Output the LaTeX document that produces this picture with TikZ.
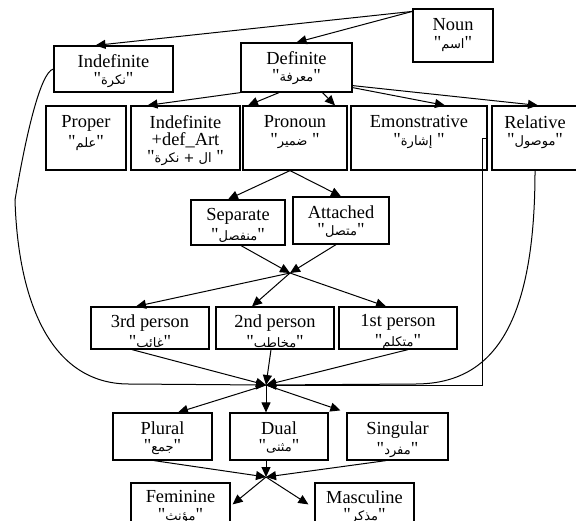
\documentclass[tikz,border=0pt]{standalone}
\usepackage{fontspec}
\setmainfont{Liberation Serif}
\newfontfamily\qfont{Liberation Serif}
\newfontfamily\arabicfont[Script=Arabic]{DejaVu Sans}
\TeXXeTstate=1
\usetikzlibrary{arrows.meta}
\usetikzlibrary{fit}
\usetikzlibrary{positioning}
\newcommand\qq{{\qfont"}}
\newcommand\artxt[1]{{\arabicfont\fontsize{6.5}{7.5}\selectfont\beginR #1\endR}}

\tikzset{
  box/.style={draw, line width=0.6pt, inner sep=0pt},
  lbl/.style={anchor=north, inner sep=0pt, align=center, font=\fontsize{9.2}{7.6}\selectfont},
  arr/.style={-{Triangle[length=5pt,width=4.5pt]}, line width=0.5pt},
}

\begin{document}
\begin{tikzpicture}[x=0.5pt, y=-0.5pt]
    \useasboundingbox (0,0) rectangle (576,520);
    \clip (0,0) rectangle (576,520);

    % top level
    \node[box, fit={(413,9) (493,62)}] (noun) {};
    \node[lbl, below=5pt of noun.north] (noun-t) {Noun\\[1pt]\qq\artxt{اسم}\qq};
    \node[box, fit={(54,46) (173,92)}] (indef) {};
    \node[lbl, below=4.5pt of indef.north] (indef-t) {Indefinite\\[1pt]\qq\artxt{نكرة}\qq};
    \node[box, fit={(241,43) (352,92)}] (defin) {};
    \node[lbl, below=4.5pt of defin.north] (defin-t) {Definite\\[1pt]\qq\artxt{معرفة}\qq};

    % kinds of definite
    \node[box, fit={(46,106) (126,170)}] (proper) {};
    \node[lbl, below=5pt of proper.north] (proper-t) {Proper\\[1pt]\qq\artxt{علم}\qq};
    \node[box, fit={(131,106) (240,170)}] (idart) {};
    \node[lbl, below=5pt of idart.north] (idart-t) {Indefinite\\[0.8pt]+def\_Art\\[1pt]\qq\artxt{ال + نكرة} \qq};
    \node[box, fit={(243,106) (347,170)}] (pron) {};
    \node[lbl, below=5pt of pron.north] (pron-t) {Pronoun\\[1pt]\qq\artxt{ضمير} \qq};
    \node[box, fit={(351,106) (487,170)}] (emon) {};
    \node[lbl, below=5pt of emon.north] (emon-t) {Emonstrative\\[1pt]\qq\artxt{إشارة} \qq};
    \node[box, fit={(492,106) (578,170)}] (rel) {};
    \node[lbl, below=5pt of rel.north] (rel-t) {Relative\\[1pt]\qq\artxt{موصول}\qq};

    % pronoun types
    \node[box, fit={(191,200) (285,245)}] (sep) {};
    \node[lbl, below=4.5pt of sep.north] (sep-t) {Separate\\[1pt]\qq\artxt{منفصل}\qq};
    \node[box, fit={(293,197) (389,244)}] (att) {};
    \node[lbl, below=4.5pt of att.north] (att-t) {Attached\\[1pt]\qq\artxt{متصل}\qq};

    % persons
    \node[box, fit={(91,307) (209,349)}] (third) {};
    \node[lbl, below=4pt of third.north] (third-t) {3rd person\\[1pt]\qq\artxt{غائب}\qq};
    \node[box, fit={(216,307) (334,349)}] (second) {};
    \node[lbl, below=4pt of second.north] (second-t) {2nd person\\[1pt]\qq\artxt{مخاطب}\qq};
    \node[box, fit={(339,307) (457,349)}] (first) {};
    \node[lbl, below=4pt of first.north] (first-t) {1st person\\[1pt]\qq\artxt{متكلم}\qq};

    % number
    \node[box, fit={(113,413) (212,460)}] (plural) {};
    \node[lbl, below=4.5pt of plural.north] (plural-t) {Plural\\[1pt]\qq\artxt{جمع}\qq};
    \node[box, fit={(230,413) (328,460)}] (dual) {};
    \node[lbl, below=4.5pt of dual.north] (dual-t) {Dual\\[1pt]\qq\artxt{مثنى}\qq};
    \node[box, fit={(347,413) (448,460)}] (sing) {};
    \node[lbl, below=4.5pt of sing.north] (sing-t) {Singular\\[1pt]\qq\artxt{مفرد}\qq};

    % gender
    \node[box, fit={(131,483) (230,545)}] (fem) {};
    \node[lbl, below=4pt of fem.north] (fem-t) {Feminine\\[1pt]\qq\artxt{مؤنث}\qq};
    \node[box, fit={(315,483) (414,545)}] (masc) {};
    \node[lbl, below=4pt of masc.north] (masc-t) {Masculine\\[1pt]\qq\artxt{مذكر}\qq};

    % junctions
    \coordinate (j1) at (290,273);
    \coordinate (j2) at (266,385);
    \coordinate (j3) at (266,477);

    \draw[arr] ([yshift=-1.5pt]noun.north west) -- ([xshift=-9pt]indef.north);
    \draw[arr] ([yshift=-1.5pt]noun.north west) -- (defin.north);

    \draw[arr] (defin.south west) -- ([xshift=-19pt]idart.north);
    \draw[arr] ([xshift=-8.75pt]defin.south) -- ([xshift=-23.5pt]pron.north);
    \draw[arr] ([xshift=13pt]defin.south) -- ([xshift=20pt]pron.north);
    \draw[arr] ([yshift=2.5pt]defin.south east) -- ([xshift=13pt]emon.north);
    \draw[arr] ([yshift=3.5pt]defin.south east) -- ([xshift=1.5pt]rel.north);

    \draw[arr] ([xshift=-2.5pt]pron.south) -- ([xshift=-5pt]sep.north);
    \draw[arr] ([xshift=-2.5pt]pron.south) -- (att.north);

    \draw[arr] ([xshift=1.5pt]sep.south) -- (j1);
    \draw[arr] ([xshift=-2.5pt]att.south) -- (j1);
    \draw[arr] (j1) -- ([xshift=-7pt]third.north);
    \draw[arr] (j1) -- ([xshift=-11.5pt]second.north);
    \draw[arr] (j1) -- ([xshift=-6pt]first.north);

    \draw[arr] ([xshift=-9pt]third.south) -- (j2);
    \draw[arr] ([xshift=-2pt]second.south) -- (j2);
    \draw[arr] ([xshift=5pt]first.south) -- (j2);
    % long ways round
    \draw[arr] (indef.west) .. controls (40,72) and (25,140) .. (15,200)
        .. controls (18,300) and (50,384) .. (129,384) -- (j2);
    \draw[arr] ([yshift=-16.5pt]emon.north east) -- ++(-5,0) |- (j2);
    \draw[arr] (rel.south) .. controls (535,330) and (490,384) .. (415,384) -- (j2);

    \draw[arr] (j2) -- ([xshift=7.75pt]plural.north);
    \draw[arr] (j2) -- ([xshift=-6.5pt]dual.north);
    \draw[arr] (j2) -- ([xshift=-3pt,yshift=1pt]sing.north west);

    \draw[arr] ([xshift=-4.25pt]plural.south) -- (j3);
    \draw[arr] ([xshift=-6.5pt]dual.south) -- (j3);
    \draw[arr] ([xshift=-5.75pt]sing.south) -- (j3);
    \draw[arr] (j3) -- ([xshift=1pt,yshift=-11pt]fem.north east);
    \draw[arr] (j3) -- ([xshift=-3pt,yshift=-11pt]masc.north west);
\end{tikzpicture}
\end{document}
